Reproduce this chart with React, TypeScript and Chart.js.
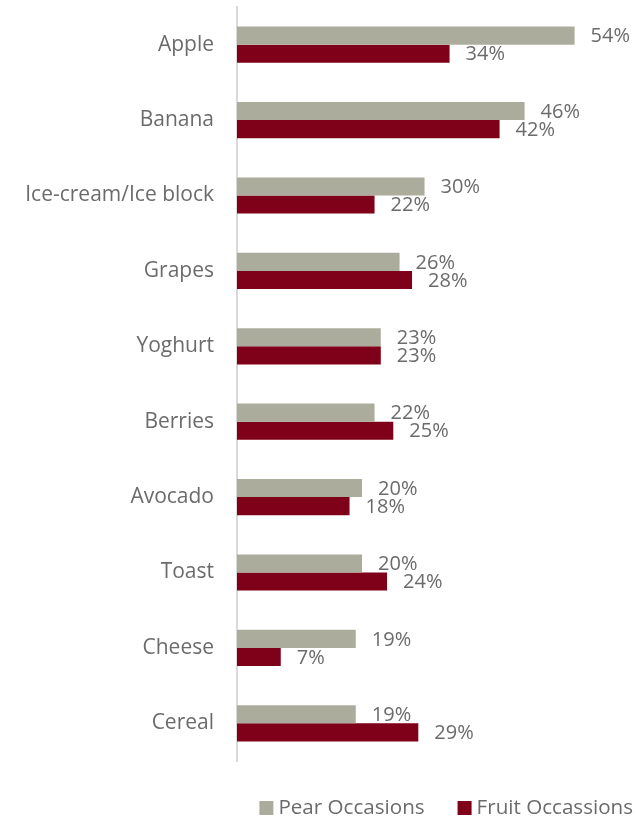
import React, { useEffect, useRef } from "react";
import { Chart, registerables } from "chart.js";

Chart.register(...registerables);

const categories = [
  "Apple",
  "Banana",
  "Ice-cream/Ice block",
  "Grapes",
  "Yoghurt",
  "Berries",
  "Avocado",
  "Toast",
  "Cheese",
  "Cereal",
];
const pearOccasions = [54, 46, 30, 26, 23, 22, 20, 20, 19, 19];
const fruitOccasions = [34, 42, 22, 28, 23, 25, 18, 24, 7, 29];
const seriesNames = ["Pear Occasions", "Fruit Occassions"];
const seriesColors = ["#ACAC9C", "#7F0019"];

const FONT = "'Open Sans', 'DejaVu Sans', sans-serif";
const TEXT_COLOR = "#6b6b6b";

const valueLabels = {
  id: "valueLabels",
  afterDatasetsDraw(chart: any) {
    const ctx = chart.ctx;
    ctx.save();
    ctx.font = `20px ${FONT}`;
    ctx.fillStyle = TEXT_COLOR;
    ctx.textAlign = "left";
    ctx.textBaseline = "middle";
    chart.data.datasets.forEach((ds: any, di: number) => {
      const meta = chart.getDatasetMeta(di);
      meta.data.forEach((el: any, i: number) => {
        ctx.fillText(`${ds.data[i]}%`, el.x + 16, el.y + 1);
      });
    });
    ctx.restore();
  },
};

const bottomLegend = {
  id: "bottomLegend",
  afterDraw(chart: any) {
    const ctx = chart.ctx;
    ctx.save();
    ctx.font = `20.6px ${FONT}`;
    ctx.textBaseline = "middle";
    ctx.textAlign = "left";
    const box = 14;
    const boxGap = 5;
    const itemGap = 33;
    const right = chart.width - 3;
    const cy = chart.height - 11;
    const widths = seriesNames.map((n) => box + boxGap + ctx.measureText(n).width);
    const total = widths.reduce((a, b) => a + b, 0) + itemGap * (widths.length - 1);
    let x = right - total;
    seriesNames.forEach((name, i) => {
      ctx.fillStyle = seriesColors[i];
      ctx.fillRect(x, cy - box / 2, box, box);
      ctx.fillStyle = TEXT_COLOR;
      ctx.fillText(name, x + box + boxGap, cy);
      x += widths[i] + itemGap;
    });
    ctx.restore();
  },
};

export default function App() {
  const ref = useRef<HTMLCanvasElement | null>(null);
  useEffect(() => {
    if (!ref.current) return;
    const chart = new Chart(ref.current, {
      type: "bar",
      data: {
        labels: categories,
        datasets: [
          {
            label: seriesNames[0],
            data: pearOccasions,
            backgroundColor: seriesColors[0],
            categoryPercentage: 0.48,
            barPercentage: 1,
          },
          {
            label: seriesNames[1],
            data: fruitOccasions,
            backgroundColor: seriesColors[1],
            categoryPercentage: 0.48,
            barPercentage: 1,
          },
        ],
      },
      options: {
        indexAxis: "y",
        responsive: true,
        maintainAspectRatio: false,
        animation: false,
        layout: { padding: { top: 7, right: 2, bottom: 58, left: 0 } },
        plugins: {
          tooltip: { enabled: false },
          legend: { display: false },
        },
        scales: {
          x: {
            display: false,
            min: 0,
            max: 63.5,
            grid: { display: false },
          },
          y: {
            grid: { display: false, drawTicks: false },
            border: { display: true, color: "#d9d9d9", width: 2 },
            ticks: {
              color: TEXT_COLOR,
              font: { family: FONT, size: 21 },
              padding: 23,
            },
            afterFit: (scale: any) => {
              scale.width = 237;
              scale.paddingTop = 0;
              scale.paddingBottom = 0;
            },
          },
        },
      },
      plugins: [valueLabels, bottomLegend],
    });
    return () => chart.destroy();
  }, []);
  return (
    <div style={{ position: "absolute", left: 0, top: 0, width: 636, height: 819 }}>
      <canvas ref={ref} />
    </div>
  );
}
